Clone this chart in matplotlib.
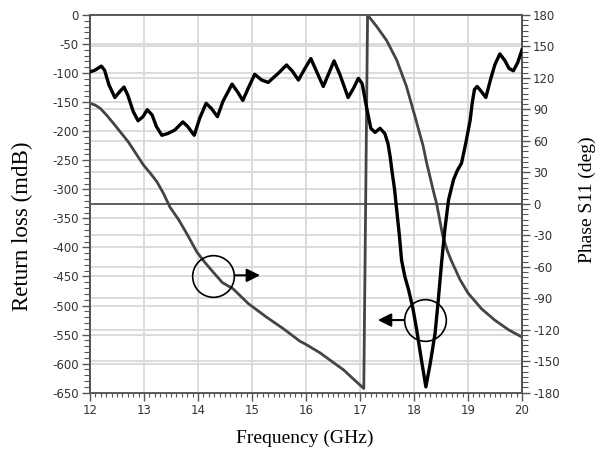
import matplotlib
matplotlib.use('Agg')
import matplotlib.pyplot as plt
from matplotlib.ticker import MultipleLocator

plt.rcParams['axes.unicode_minus'] = False

# return loss (mdB) vs frequency (GHz), left axis
rl_freq = [12.0, 12.09, 12.21, 12.27, 12.35, 12.46, 12.55, 12.63, 12.7, 12.8,
           12.89, 12.98, 13.06, 13.15, 13.23, 13.33, 13.44, 13.57, 13.72, 13.81,
           13.93, 14.03, 14.15, 14.25, 14.36, 14.46, 14.63, 14.73, 14.83, 14.93,
           15.05, 15.18, 15.3, 15.49, 15.64, 15.75, 15.86, 15.98, 16.09, 16.2,
           16.32, 16.41, 16.52, 16.63, 16.78, 16.88, 16.97, 17.04, 17.12, 17.2,
           17.28, 17.37, 17.46, 17.52, 17.56, 17.59, 17.64, 17.68, 17.73, 17.77,
           17.83, 17.9, 17.98, 18.05, 18.14, 18.22, 18.3, 18.39, 18.45, 18.51,
           18.57, 18.64, 18.73, 18.8, 18.88, 18.96, 19.04, 19.08, 19.12, 19.17,
           19.25, 19.33, 19.42, 19.5, 19.59, 19.68, 19.76, 19.84, 19.92, 20.0]
rl_vals = [-98, -95, -88, -95, -120, -142, -132, -124, -138, -166,
           -182, -175, -163, -172, -192, -207, -204, -198, -184, -192,
           -207, -178, -152, -161, -175, -149, -119, -132, -147, -126,
           -102, -112, -116, -100, -86, -97, -112, -92, -75, -98,
           -123, -103, -79, -103, -142, -126, -109, -118, -158, -195,
           -202, -195, -204, -222, -245, -267, -300, -336, -380, -422,
           -450, -473, -505, -542, -595, -640, -600, -548, -490, -427,
           -370, -318, -284, -268, -255, -220, -181, -150, -128, -123,
           -132, -142, -110, -85, -67, -78, -92, -96, -82, -60]

# phase of S11 (deg), right axis
ph_freq = [12.0, 12.1, 12.19, 12.3, 12.43, 12.57, 12.71, 12.85, 12.99, 13.12,
           13.24, 13.36, 13.48, 13.64, 13.81, 13.98, 14.13, 14.28, 14.45, 14.65,
           14.93, 15.27, 15.58, 15.89, 16.0, 16.26, 16.5, 16.69, 16.9, 17.07,
           17.14, 17.31, 17.49, 17.68, 17.86, 18.02, 18.17, 18.23, 18.36, 18.42,
           18.53, 18.62, 18.69, 18.85, 19.0, 19.25, 19.5, 19.75, 20.0]
ph_vals = [96, 94, 91, 85, 77, 68, 59, 48, 37, 29,
           21, 10, -3, -15, -30, -46, -56, -65, -75, -81,
           -95, -108, -119, -131, -134, -142, -151, -158, -168, -176,
           180, 169, 156, 137, 112, 83, 55, 40, 12, 0,
           -30, -45, -54, -72, -85, -100, -111, -120, -127]

# circled markers with arrows pointing to the axis each curve belongs to
circle_pts = [(14.28, -450), (18.2, -525)]
arrow_pts = [((14.68, -448), (15.15, -448)), ((17.81, -525), (17.33, -525))]

spine_col = '#555555'
grid_col = '#d9d9d9'
tick_col = '#333333'

fig = plt.figure(figsize=(5.95, 4.5), dpi=100)
pos = [90 / 595, 1 - 392.7 / 450, 432 / 595, 377.7 / 450]
ax = fig.add_axes(pos)
ax2 = ax.twinx()
ax3 = fig.add_axes(pos, sharex=ax, sharey=ax)
ax3.set_axis_off()

ax.set_xlim(12, 20)
ax.set_ylim(-650, 0)
ax2.set_ylim(-180, 180)

ax.xaxis.set_major_locator(MultipleLocator(1))
ax.xaxis.set_minor_locator(MultipleLocator(0.1))
ax.yaxis.set_major_locator(MultipleLocator(50))
ax.yaxis.set_minor_locator(MultipleLocator(10))
ax2.yaxis.set_major_locator(MultipleLocator(30))
ax2.yaxis.set_minor_locator(MultipleLocator(5))

ax.grid(True, which='major', color=grid_col, lw=1.3)
ax2.grid(True, which='major', axis='y', color=grid_col, lw=1.3)
ax.set_axisbelow(True)
ax2.set_axisbelow(True)

for a in (ax, ax2):
    for s in a.spines.values():
        s.set_color(spine_col)
        s.set_linewidth(1.3)
    a.tick_params(which='major', direction='out', length=6, width=1,
                  color=spine_col, labelsize=8.5, labelcolor=tick_col, pad=2)
    a.tick_params(which='minor', direction='out', length=4, width=0.8,
                  color=spine_col)
ax.tick_params(axis='x', which='minor', length=3)

ax2.axhline(0, color=spine_col, lw=1.3, zorder=1.5)
ax2.plot(ph_freq, ph_vals, color='#444444', lw=2, solid_joinstyle='round')
ax3.plot(rl_freq, rl_vals, color='black', lw=2.4, solid_joinstyle='round')

for cx, cy in circle_pts:
    ax3.plot([cx], [cy], marker='o', ms=30, mfc='none', mec='black', mew=1.2)
for start, tip in arrow_pts:
    ax3.annotate('', xy=tip, xytext=start,
                 arrowprops=dict(arrowstyle='-|>', color='black', lw=1.5,
                                 mutation_scale=20, shrinkA=0, shrinkB=0))

serif = ['Liberation Serif', 'DejaVu Serif']
fig.text(22 / 595, 1 - 226 / 450, 'Return loss (mdB)', rotation=90,
         ha='center', va='center', fontsize=16.5, family=serif)
fig.text(587 / 595, 1 - 200 / 450, 'Phase S11 (deg)', rotation=90,
         ha='center', va='center', fontsize=14, family=serif)
fig.text(305 / 595, 1 - 438 / 450, 'Frequency (GHz)',
         ha='center', va='center', fontsize=14, family=serif)

fig.savefig('out.png', dpi=100)
